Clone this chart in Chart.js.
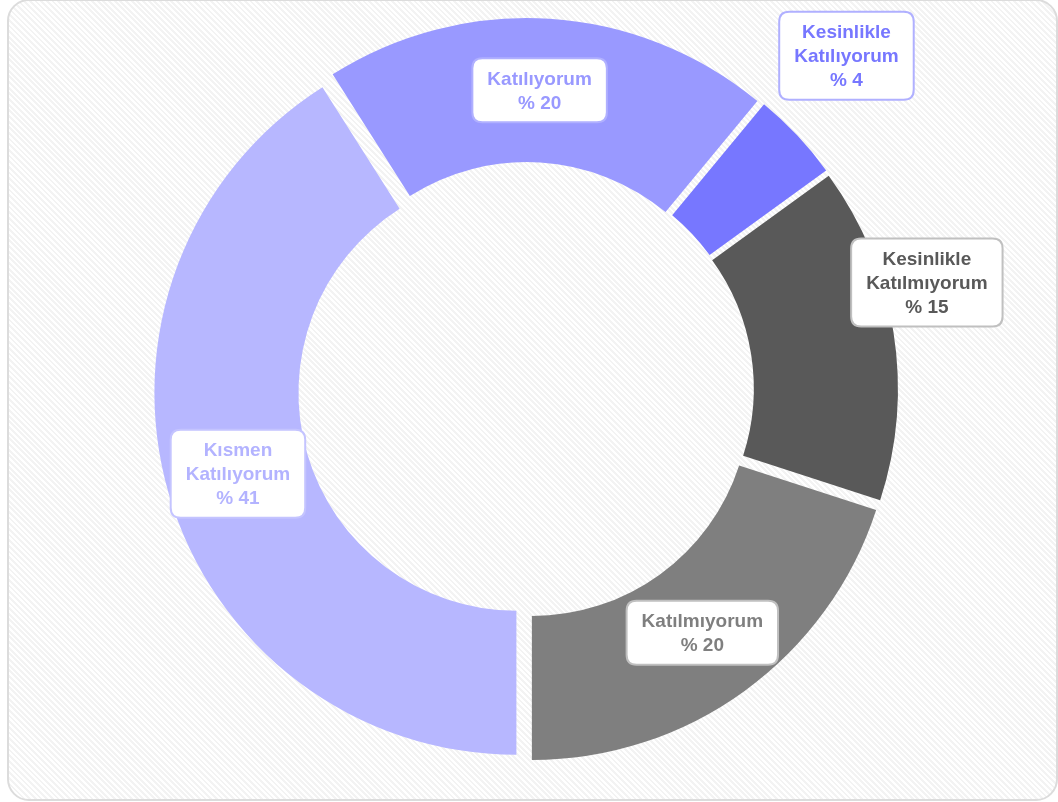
<!DOCTYPE html>
<html>
<head>
<meta charset="utf-8">
<script src="https://cdn.jsdelivr.net/npm/chart.js@4/dist/chart.umd.min.js"></script>
<style>
  html, body { margin: 0; padding: 0; background: #ffffff; }
  #wrap { position: relative; width: 1058px; height: 802px; overflow: hidden; }
  #frame {
    position: absolute; left: 7px; top: -1px; width: 1047px; height: 798px;
    border: 2px solid #dcdcdc; border-radius: 22px;
    background: repeating-linear-gradient(45deg, #ffffff 0px, #ffffff 2px, #f3f3f3 2px, #f3f3f3 4px);
  }
  canvas { position: absolute; left: 0; top: 0; }
</style>
</head>
<body>
<div id="wrap">
  <div id="frame"></div>
  <canvas id="c" width="1058" height="802"></canvas>
</div>
<script>
// ---- data ----
const categories = ['Kısmen Katılıyorum', 'Katılıyorum', 'Kesinlikle Katılıyorum', 'Kesinlikle Katılmıyorum', 'Katılmıyorum'];
const values = [41, 20, 4, 15, 20];
const valuePrefix = '% ';

// ---- styles ----
const segmentColors = ['#b7b7ff', '#9999ff', '#7777ff', '#595959', '#7f7f7f'];
const labelTextColors = ['#b3b3ff', '#9999ff', '#7777ff', '#595959', '#7f7f7f'];
const labelBorderColors = ['#c4c4ff', '#b0b0ff', '#b0b0ff', '#c0c0c0', '#c0c0c0'];
// label placement: radial distance from the centre (null = middle of ring), angle nudge (deg)
const labelRadius = [null, null, 463, 415, null];
const labelAngleShift = [0, -1, -3, -6, 0];
const explode = 10;

const explodePlugin = {
  id: 'explode',
  beforeDatasetsDraw(chart) {
    const ctx = chart.ctx;
    const meta = chart.getDatasetMeta(0);
    meta.data.forEach((arc) => {
      const mid = (arc.startAngle + arc.endAngle) / 2;
      ctx.save();
      ctx.translate(Math.cos(mid) * explode, Math.sin(mid) * explode);
      arc.draw(ctx);
      ctx.restore();
    });
    return false;
  }
};

function roundRect(ctx, x, y, w, h, r) {
  ctx.beginPath();
  ctx.moveTo(x + r, y);
  ctx.lineTo(x + w - r, y);
  ctx.quadraticCurveTo(x + w, y, x + w, y + r);
  ctx.lineTo(x + w, y + h - r);
  ctx.quadraticCurveTo(x + w, y + h, x + w - r, y + h);
  ctx.lineTo(x + r, y + h);
  ctx.quadraticCurveTo(x, y + h, x, y + h - r);
  ctx.lineTo(x, y + r);
  ctx.quadraticCurveTo(x, y, x + r, y);
  ctx.closePath();
}

const labelPlugin = {
  id: 'boxLabels',
  afterDraw(chart) {
    const ctx = chart.ctx;
    const meta = chart.getDatasetMeta(0);
    const fontSize = 19, lineH = 24, padX = 15, padY = 8;
    ctx.save();
    ctx.font = 'bold ' + fontSize + 'px "Liberation Sans", Arial, sans-serif';
    ctx.textAlign = 'center';
    ctx.textBaseline = 'middle';
    meta.data.forEach((arc, i) => {
      const lines = categories[i].split(' ').concat([valuePrefix + values[i]]);
      const mid = (arc.startAngle + arc.endAngle) / 2 + labelAngleShift[i] * Math.PI / 180;
      const r = labelRadius[i] !== null ? labelRadius[i] : (arc.innerRadius + arc.outerRadius) / 2 + explode;
      const cx = arc.x + Math.cos(mid) * r;
      const cy = arc.y + Math.sin(mid) * r;
      const w = Math.max(...lines.map(l => ctx.measureText(l).width)) + padX * 2;
      const h = lines.length * lineH + padY * 2;
      roundRect(ctx, cx - w / 2, cy - h / 2, w, h, 10);
      ctx.fillStyle = '#ffffff';
      ctx.fill();
      ctx.lineWidth = 2;
      ctx.strokeStyle = labelBorderColors[i];
      ctx.stroke();
      ctx.fillStyle = labelTextColors[i];
      lines.forEach((l, k) => {
        ctx.fillText(l, cx, cy - h / 2 + padY + lineH * (k + 0.5) + 1);
      });
    });
    ctx.restore();
  }
};

new Chart(document.getElementById('c'), {
  type: 'doughnut',
  data: {
    labels: categories,
    datasets: [{
      data: values,
      backgroundColor: segmentColors,
      borderWidth: 0
    }]
  },
  options: {
    responsive: false,
    animation: false,
    rotation: 180,
    radius: 362,
    cutout: '60.2%',
    layout: { padding: { left: 0, right: 6, top: 0, bottom: 22 } },
    plugins: { legend: { display: false }, tooltip: { enabled: false } }
  },
  plugins: [explodePlugin, labelPlugin]
});
</script>
</body>
</html>
